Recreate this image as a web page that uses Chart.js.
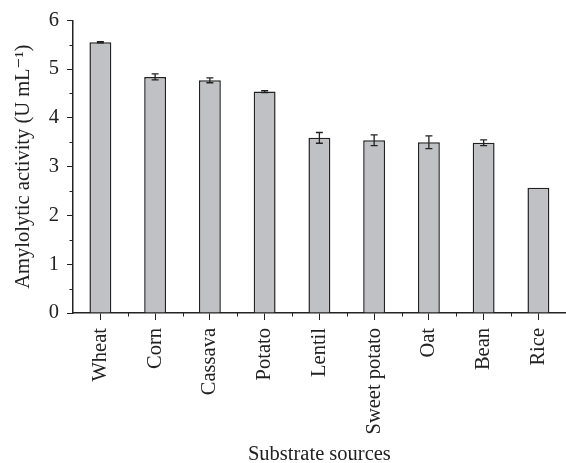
<!DOCTYPE html>
<html>
<head>
<meta charset="utf-8">
<script src="https://cdn.jsdelivr.net/npm/chart.js@4.4.1/dist/chart.umd.min.js"></script>
<style>
  html, body { margin: 0; padding: 0; background: #fff; overflow: hidden; }
  #wrap { width: 566px; height: 463px; overflow: hidden; }
</style>
</head>
<body>
<div id="wrap"><canvas id="activityChart" width="571" height="463"></canvas></div>
<script>
const substrates = ["Wheat", "Corn", "Cassava", "Potato", "Lentil", "Sweet potato", "Oat", "Bean", "Rice"];
const activity = [5.55, 4.84, 4.77, 4.54, 3.59, 3.54, 3.50, 3.49, 2.57];
const activityErr = [0.01, 0.06, 0.05, 0.02, 0.11, 0.11, 0.13, 0.06, 0];
const yTicks = [0, 1, 2, 3, 4, 5, 6];

const ink = "#222";
const serif = "'Liberation Serif', 'DejaVu Serif', serif";

// error bars + minor ticks, positioned with the chart's own scales
const extras = {
  id: "extras",
  afterDatasetsDraw(chart) {
    const ctx = chart.ctx;
    const x = chart.scales.x, y = chart.scales.y;
    ctx.save();
    ctx.strokeStyle = ink;
    ctx.lineWidth = 1.3;
    activity.forEach((v, i) => {
      const e = activityErr[i];
      if (!e) return;
      const cx = x.getPixelForValue(i);
      const hi = y.getPixelForValue(v + e), lo = y.getPixelForValue(v - e);
      ctx.beginPath();
      ctx.moveTo(cx, hi); ctx.lineTo(cx, lo);
      ctx.moveTo(cx - 3.5, hi); ctx.lineTo(cx + 3.5, hi);
      ctx.moveTo(cx - 3.5, lo); ctx.lineTo(cx + 3.5, lo);
      ctx.stroke();
    });
    // minor ticks
    ctx.lineWidth = 1;
    ctx.beginPath();
    for (let i = 0; i < substrates.length - 1; i++) {
      const px = Math.round(x.getPixelForValue(i + 0.5)) + 0.5;
      ctx.moveTo(px, y.bottom); ctx.lineTo(px, y.bottom + 3.5);
    }
    for (let v = 0.5; v < 6; v += 1) {
      const py = Math.round(y.getPixelForValue(v)) + 0.5;
      ctx.moveTo(x.left, py); ctx.lineTo(x.left - 3.5, py);
    }
    ctx.stroke();
    ctx.restore();
  }
};

new Chart(document.getElementById("activityChart"), {
  type: "bar",
  data: {
    labels: substrates,
    datasets: [{
      data: activity,
      backgroundColor: "#c0c1c4",
      borderColor: ink,
      borderWidth: 1.5,
      barPercentage: 0.4,
      categoryPercentage: 1.0
    }]
  },
  options: {
    responsive: false,
    animation: false,
    layout: { padding: { top: 20, right: 0, bottom: 0, left: 0 } },
    plugins: { legend: { display: false }, tooltip: { enabled: false } },
    scales: {
      x: {
        offset: true,
        afterFit: (s) => { s.height = 150; },
        grid: { offset: false, drawOnChartArea: false, tickLength: 7, tickColor: ink, tickWidth: 1 },
        border: { color: ink, width: 1.5 },
        ticks: {
          color: ink, minRotation: 90, maxRotation: 90, padding: 8,
          font: { family: serif, size: 20.5 }
        },
        title: {
          display: true, text: "Substrate sources", color: ink,
          font: { family: serif, size: 20.5, lineHeight: 0.8 }, padding: { top: 0, bottom: 0 }
        }
      },
      y: {
        min: 0, max: 6,
        afterFit: (s) => { s.width = 73; },
        afterBuildTicks: (s) => { s.ticks = yTicks.map(v => ({ value: v })); },
        grid: { drawOnChartArea: false, tickLength: 6, tickColor: ink, tickWidth: 1 },
        border: { color: ink, width: 1.5 },
        ticks: { color: ink, padding: 8, font: { family: serif, size: 20.5 } },
        title: {
          display: true, text: "Amylolytic activity (U mL\u207B\u00B9)", color: ink,
          font: { family: serif, size: 20.5, lineHeight: 1 }, padding: { top: 13, bottom: 0 }
        }
      }
    }
  },
  plugins: [extras]
});
</script>
</body>
</html>
